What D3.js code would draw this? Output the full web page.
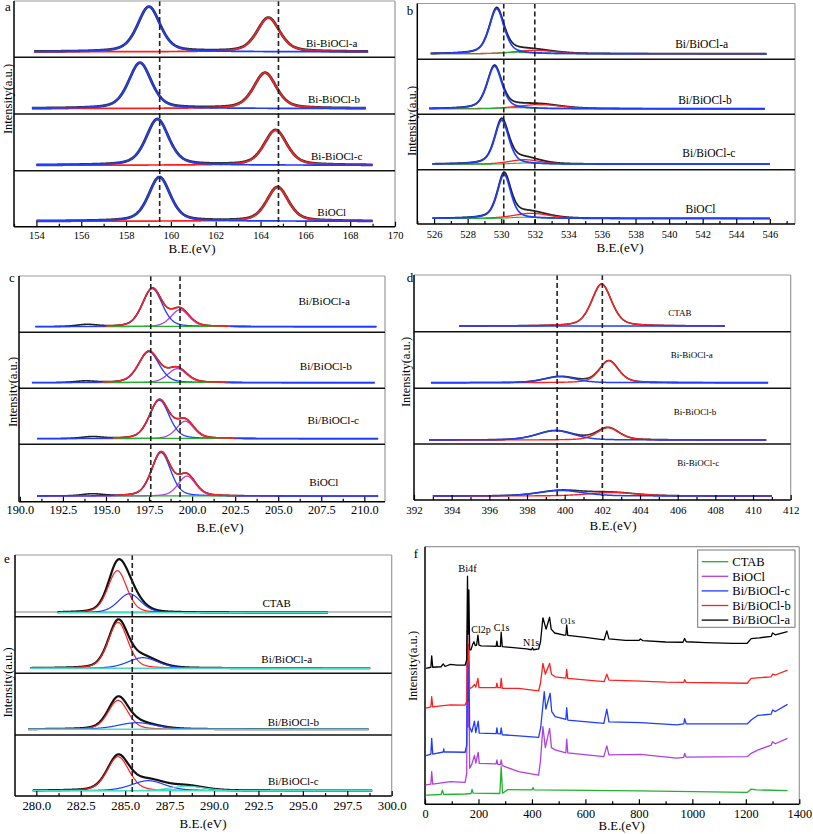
<!DOCTYPE html>
<html><head><meta charset="utf-8">
<script src="https://cdn.jsdelivr.net/npm/d3@7"></script>
<style>body{margin:0;background:#fff} svg{display:block} text{font-family:"Liberation Serif","Times New Roman",Times,serif;fill:#000}</style>
</head><body><svg id="c" width="813" height="834"></svg>
<script>
// ================= DATA =================
// ---- panel a : Bi 4f ----
const aSamples = ["Bi-BiOCl-a","Bi-BiOCl-b","Bi-BiOCl-c","BiOCl"];
const aRange = [[153.9,168.8],[153.8,168.7],[154.0,169.0],[154.0,169.0]];
const aBi72Center = [159.02,158.62,159.40,159.49];
const aBi72Height = [45,45.6,46,44];
const aBi72Fwhm = [1.2,1.2,1.2,1.15];
const aBi52Center = [164.35,164.20,164.67,164.76];
const aBi52Height = [34,35.6,35,34];
const aBi52Fwhm = [1.2,1.2,1.2,1.15];
const aRefLines = [159.5,164.8];
const aTicks = [154,156,158,160,162,164,166,168,170];

// ---- panel b : O 1s ----
const bSamples = ["Bi/BiOCl-a","Bi/BiOCl-b","Bi/BiOCl-c","BiOCl"];
const bRange = [[525.8,545.8],[525.7,545.7],[525.9,546.0],[525.9,546.0]];
const bLatCenter = [529.73,529.60,530.03,530.17];
const bLatHeight = [45,42.6,44,44];
const bLatFwhm = [1.05,1.05,1.0,0.95];
const bOHCenter = [532.0,532.3,531.4,531.8];
const bOHHeight = [3.5,4.3,4.5,5.2];
const bOHFwhm = [2.8,3.0,2.2,2.5];
const bAdsCenter = [530.9,530.9,531.5,531.4];
const bAdsHeight = [1.5,1.2,1.2,1.3];
const bRefLines = [530.15,532.0];
const bTicks = [526,528,530,532,534,536,538,540,542,544,546];

// ---- panel c : Cl 2p ----
const cSamples = ["Bi/BiOCl-a","Bi/BiOCl-b","Bi/BiOCl-c","BiOCl"];
const cRange = [[190.9,210.7],[190.7,210.6],[191.0,210.8],[191.0,210.8]];
const cFitWindow = [[195.0,202.2],[194.8,202.0],[195.4,202.5],[195.5,202.6]];
const c32Center = [197.69,197.49,198.10,198.20];
const c32Height = [38,31,38.5,43.5];
const c32Fwhm = [1.35,1.4,1.35,1.3];
const c12Center = [199.30,199.14,199.60,199.70];
const c12Height = [17,14,17.5,20];
const c12Fwhm = [1.25,1.3,1.2,1.2];
const cSatCenter = [193.9,193.8,194.2,194.2];
const cSatHeight = [2,1.5,1.8,2];
const cRefLines = [197.6,199.3];
const cTicks = [190,192.5,195,197.5,200,202.5,205,207.5,210];

// ---- panel d : N 1s ----
const dSamples = ["CTAB","Bi-BiOCl-a","Bi-BiOCl-b","Bi-BiOCl-c"];
const dRange = [[394.4,408.5],[392.9,410.8],[392.8,410.7],[393.0,411.0]];
const dQuatCenter = [401.96,402.35,402.30,402.50];
const dQuatHeight = [42,22,12.3,3.5];
const dQuatFwhm = [1.25,1.2,1.4,3.0];
const dAmCenter = [399.6,399.75,399.5,399.8];
const dAmHeight = [0,6,9.3,5.5];
const dAmFwhm = [2.0,2.0,2.3,2.8];
const dRefLines = [399.6,402.0];
const dTicks = [392,394,396,398,400,402,404,406,408,410,412];

// ---- panel e : C 1s ----
const eSamples = ["CTAB","Bi/BiOCl-a","Bi/BiOCl-b","Bi/BiOCl-c"];
const eRange = [[281.2,296.4],[279.65,298.8],[279.55,298.7],[279.8,298.9]];
const eCCCenter = [284.56,284.60,284.60,284.60];
const eCCHeight = [42,46,29,34];
const eCCFwhm = [1.26,1.31,1.31,1.45];
const eCOCenter = [285.24,286.0,285.65,286.3];
const eCOHeight = [19,10.6,6.6,10];
const eCOFwhm = [1.5,2.0,2.5,2.2];
const eOCOCenter = [288.5,288.5,288.5,288.5];
const eOCOHeight = [0,0,0,4.5];
const eRefLines = [285.4];
const eTicks = [280,282.5,285,287.5,290,292.5,295,297.5,300];

// ---- panel f : survey spectra [B.E.(eV), intensity a.u.] ----
const fSeries = ["CTAB","BiOCl","Bi/BiOCl-c","Bi/BiOCl-b","Bi/BiOCl-a"];
const fCTAB = [[4,3.6],[60,3.8],[65,5.5],[70,3.8],[150,4.0],[172,4.2],[176,5.8],[180,4.3],[280,4.2],[285,14.6],[290,4.3],[300,5.0],[310,5.7],[400,5.6],[404,6.5],[408,5.6],[800,5.2],[1205,4.6],[1220,5.9],[1240,5.6],[1356,5.3]];
const fBiOCl = [[4,7.5],[22,7.8],[25,12.7],[29,7.8],[95,8.8],[150,8.5],[156,12],[159,67.7],[161,30],[164,50],[167,14],[175,15.5],[185,19],[190,16],[199,20.2],[203,15.9],[266,15.7],[269,17.2],[272,15.5],[282,15.4],[285,17.2],[289,15],[350,12.7],[425,11.3],[432,17],[441,30.1],[450,22],[466,29.5],[473,22],[487,21.1],[527,20.0],[530,25.3],[534,20.0],[669,18.5],[680,22.7],[688,19.2],[806,19.4],[942,17.9],[968,18.2],[971,19.8],[977,18.3],[1205,18.5],[1220,19.8],[1244,21.0],[1295,23],[1300,24.3],[1310,23.5],[1356,25.6]];
const fBiBiOClC = [[4,18.9],[22,19.5],[25,25.6],[29,19.5],[68,20.3],[70,21.5],[72,20.3],[95,20.3],[150,20.2],[156,23],[159,65.4],[161,40],[164,55],[167,30],[175,28],[185,32.3],[190,27.8],[199,32.3],[203,27.6],[266,27.4],[269,29.7],[272,27.4],[282,27.3],[285,29.7],[289,27.0],[350,26.6],[425,26.0],[433,30],[446,43.7],[452,37],[468,43.1],[474,36],[487,34.0],[527,33.0],[530,37.5],[534,32.7],[669,31.4],[680,36.9],[688,32.0],[806,31.7],[942,30.8],[968,31.2],[971,33.2],[977,31.2],[1205,31.2],[1220,32.7],[1244,34.5],[1295,35],[1300,36.6],[1310,36],[1356,38.8]];
const fBiBiOClB = [[4,37.3],[22,37.8],[25,41.8],[29,37.8],[68,38.3],[95,38.6],[150,38.5],[156,40],[159,68],[161,55],[164,62],[167,45],[175,45.3],[185,46.5],[190,45.5],[198,48.9],[202,45.3],[266,45.3],[269,47.0],[272,45.3],[282,45.3],[285,48.9],[289,45.0],[350,45.0],[425,44.0],[432,47],[441,54.7],[450,50.5],[466,54.7],[473,50.5],[487,49.5],[527,49.0],[530,52.4],[534,48.9],[670,47.6],[680,50.5],[688,48.2],[806,47.8],[900,47.4],[968,47.3],[971,48.4],[977,47.3],[1205,47.0],[1220,48.9],[1295,49.5],[1300,50.5],[1310,50.2],[1356,52.1]];
const fBiBiOClA = [[4,52.8],[22,53.2],[25,57.6],[29,53.2],[60,53.4],[68,54.5],[75,53.5],[95,54.3],[120,54.0],[150,54.0],[156,56],[159,88.6],[161,66],[164,83.2],[167,60],[172,60],[178,62],[183,63.1],[188,61.6],[193,61.8],[198,65.7],[202,61.8],[210,61.5],[250,61.4],[266,61.3],[269,63.3],[272,61.3],[282,61.3],[285,66.8],[289,61.2],[320,60.9],[380,60.3],[398,60.0],[402,60.8],[406,60.0],[425,60.3],[432,63],[441,72.4],[453,68.0],[466,72.6],[472,68],[485,66.5],[520,65.7],[527,65.7],[530,69.6],[534,65.6],[600,64.8],[670,63.8],[680,67.3],[688,64.2],[750,63.6],[800,63.6],[806,64.2],[815,63.5],[900,63.0],[965,62.9],[971,64.4],[977,63.1],[1050,62.8],[1150,62.5],[1205,62.5],[1220,64.3],[1250,64.6],[1295,65.2],[1300,66.5],[1310,65.8],[1356,67.0]];
const fAnnot = ["Bi4f","Cl2p","C1s","N1s","O1s"];
const fTicks = [0,200,400,600,800,1000,1200,1400];

// ================= DRAWING =================
const svg = d3.select('#c');
const FONT = '"Liberation Serif","Times New Roman",Times,serif';
const BLUE = '#1f3cff', RED = '#ff1f1f', MAG = '#b040e0', GREEN = '#22b02e', CYAN = '#45dcc4';

function pv(x,c,h,w,eta){ if(!h) return 0; const t=(x-c)/w; return h*(eta/(1+4*t*t)+(1-eta)*Math.exp(-4*Math.LN2*t*t)); }
function samp(r){ return d3.range(r[0], r[1]+1e-9, 0.02); }
function path(g,xs,ys,x,y,color,w){
  const line = d3.line().x((d,j)=>x(xs[j])).y(d=>y(d));
  return g.append('path').attr('d',line(ys)).attr('fill','none').attr('stroke',color).attr('stroke-width',w).attr('stroke-linejoin','round');
}
function midTicks(t){ const m=[]; for(let i=0;i<t.length-1;i++) m.push((t[i]+t[i+1])/2); m.unshift(t[0]-(t[1]-t[0])/2); m.push(t[t.length-1]+(t[1]-t[0])/2); return m; }

function frame(L, x){
  const g = svg.append('g');
  const top = L.bounds[0], bot = L.bounds[L.bounds.length-1];
  (L.refs||[]).forEach(v=>{
    g.append('line').attr('x1',x(v)).attr('x2',x(v)).attr('y1',top).attr('y2',bot)
     .attr('stroke','#222').attr('stroke-width',1.6).attr('stroke-dasharray','5,3');
  });
  g.append('line').attr('x1',L.x0).attr('x2',L.x1).attr('y1',top).attr('y2',top).attr('stroke','#999').attr('stroke-width',1.2);
  g.append('line').attr('x1',L.x1).attr('x2',L.x1).attr('y1',top).attr('y2',bot).attr('stroke','#999').attr('stroke-width',1.2);
  for(let i=1;i<L.bounds.length-1;i++){
    g.append('line').attr('x1',L.x0).attr('x2',L.x1).attr('y1',L.bounds[i]).attr('y2',L.bounds[i]).attr('stroke','#111').attr('stroke-width',1.5);
  }
  g.append('line').attr('x1',L.x0).attr('x2',L.x0).attr('y1',top).attr('y2',bot).attr('stroke','#000').attr('stroke-width',1.5);
  const dom = x.domain();
  const minor = midTicks(L.major).filter(v=>v>=dom[0]-1e-6 && v<=dom[1]+1e-6);
  const ax = d3.axisBottom(x).tickValues(L.major).tickFormat(L.fmt).tickSize(-5).tickPadding(L.tickPad);
  const axg = g.append('g').attr('transform',`translate(0,${bot})`).call(ax);
  axg.select('.domain').remove();
  axg.attr('font-family',FONT).attr('font-size',L.tickFs);
  axg.selectAll('line').attr('stroke','#000').attr('stroke-width',1.2);
  axg.selectAll('text').attr('fill','#000');
  const mx = d3.axisBottom(x).tickValues(minor).tickFormat('').tickSize(-3);
  const mg = g.append('g').attr('transform',`translate(0,${bot})`).call(mx);
  mg.select('.domain').remove();
  mg.selectAll('line').attr('stroke','#000').attr('stroke-width',1.2);
  g.append('line').attr('x1',L.x0).attr('x2',L.x1).attr('y1',bot).attr('y2',bot).attr('stroke','#000').attr('stroke-width',1.5);
  g.append('text').attr('x',L.title[0]).attr('y',L.title[1]).attr('text-anchor','middle').attr('font-size',L.titleFs||13).text('B.E.(eV)');
  g.append('text').attr('transform',`translate(${L.ylab[0]},${L.ylab[1]}) rotate(-90)`).attr('text-anchor','middle').attr('dominant-baseline','central').attr('font-size',L.ylabFs||12.5).text('Intensity(a.u.)');
  g.append('text').attr('x',L.letter[1]).attr('y',L.letter[2]).attr('text-anchor','middle').attr('font-size',13).text(L.letter[0]);
}

function panel(L, names, drawStrip){
  const x = d3.scaleLinear().domain(L.domain).range([L.x0,L.x1]);
  const top = L.bounds[0], bot = L.bounds[L.bounds.length-1];
  const cid = 'clip'+L.letter[0];
  svg.append('clipPath').attr('id',cid).append('rect').attr('x',L.x0).attr('y',top).attr('width',L.x1-L.x0).attr('height',bot-top);
  const plot = svg.append('g').attr('clip-path',`url(#${cid})`);
  for(let i=0;i<L.bounds.length-1;i++){
    const b = L.bounds[i+1];
    const base = Array.isArray(L.base)?L.base[i]:L.base;
    const y = d3.scaleLinear().domain([0,100]).range([b-base,b-base-100]);
    drawStrip(i,x,y,plot);
    svg.append('text').attr('x',L.labelX[i]).attr('y',b-L.labelDy[i]).attr('text-anchor','middle').attr('font-size',L.labelFs).text(names[i]);
  }
  frame(L,x);
}

// ---- a ----
panel({x0:14,x1:395,bounds:[1,57.3,114,170.7,226.7],domain:[153,170],major:aTicks,fmt:d3.format('d'),tickFs:10.5,tickPad:4.8,
  title:[192,253],ylab:[7.5,99],letter:['a',8,11],labelX:[331.7,334,336.7,331.7],labelDy:[10.6,10.7,10.7,11],labelFs:11,base:5.5,refs:aRefLines},
  aSamples,(i,x,y,g)=>{
    const xs = samp(aRange[i]);
    const p1 = xs.map(v=>pv(v,aBi72Center[i],aBi72Height[i],aBi72Fwhm[i],0.45));
    const p2 = xs.map(v=>pv(v,aBi52Center[i],aBi52Height[i],aBi52Fwhm[i],0.45));
    path(g,xs,p1.map((v,j)=>v+p2[j]),x,y,'#333',2.8);
    path(g,xs,p2,x,y,RED,1.7);
    path(g,xs,p1,x,y,BLUE,1.7);
  });

// ---- b ----
panel({x0:417.3,x1:795,bounds:[3.5,59.3,114.3,169.7,224],domain:[525,547.5],major:bTicks,fmt:d3.format('d'),tickFs:10.5,tickPad:6.5,
  title:[620,252],ylab:[412,121],letter:['b',410,15],labelX:[701.7,705,708.8,700.5],labelDy:[11,10.3,13,11.3],labelFs:11.5,base:5.5,refs:bRefLines},
  bSamples,(i,x,y,g)=>{
    const xs = samp(bRange[i]);
    const p1 = xs.map(v=>pv(v,bLatCenter[i],bLatHeight[i],bLatFwhm[i],0.5));
    const p2 = xs.map(v=>pv(v,bOHCenter[i],bOHHeight[i],bOHFwhm[i],0.4));
    const p3 = xs.map(v=>pv(v,bAdsCenter[i],bAdsHeight[i],2.0,0.3));
    path(g,xs,p1.map((v,j)=>v+p2[j]+p3[j]),x,y,'#222',1.8);
    path(g,xs,p2,x,y,RED,1.3);
    path(g,xs,p3,x,y,GREEN,1.1);
    path(g,xs,p1,x,y,BLUE,1.7);
  });

// ---- c ----
panel({x0:19,x1:385,bounds:[276,332.3,388.3,444.3,501.7],domain:[189.95,211.2],major:cTicks,fmt:d3.format('.1f'),tickFs:12.3,tickPad:3.9,
  title:[220,531.5],ylab:[13,392],letter:['c',12,282],labelX:[324.2,325.8,333.3,323.8],labelDy:[27.3,18.3,20.3,15.7],labelFs:11.2,base:5.6,refs:cRefLines},
  cSamples,(i,x,y,g)=>{
    const xs = samp(cRange[i]);
    const p1 = xs.map(v=>pv(v,c32Center[i],c32Height[i],c32Fwhm[i],0.3));
    const p2 = xs.map(v=>pv(v,c12Center[i],c12Height[i],c12Fwhm[i],0.3));
    const p3 = xs.map(v=>pv(v,cSatCenter[i],cSatHeight[i],1.4,0.3));
    path(g,xs,p1.map((v,j)=>v+p2[j]+p3[j]),x,y,'#222',1.6);
    path(g,xs,p2,x,y,MAG,1.3);
    path(g,xs,p1,x,y,BLUE,1.3);
    const w = cFitWindow[i];
    const xw = samp(w);
    path(g,xw,xw.map(()=>0.3),x,y,GREEN,1.2);
    path(g,xw,xw.map(v=>pv(v,c32Center[i],c32Height[i],c32Fwhm[i],0.3)+pv(v,c12Center[i],c12Height[i],c12Fwhm[i],0.3)),x,y,RED,1.5);
  });

// ---- d ----
panel({x0:414,x1:790.7,bounds:[275,331.7,388.3,444,500],domain:[392,412],major:dTicks,fmt:d3.format('d'),tickFs:11,tickPad:6.2,
  title:[613,529.5],ylab:[406,372],letter:['d',410,282],labelX:[680,691.7,695,698.3],labelDy:[15.7,30,29,34],labelFs:9,base:[5.7,5.6,4,4],refs:dRefLines},
  dSamples,(i,x,y,g)=>{
    const xs = samp(dRange[i]);
    const p1 = xs.map(v=>pv(v,dQuatCenter[i],dQuatHeight[i],dQuatFwhm[i],0.4));
    const p2 = xs.map(v=>pv(v,dAmCenter[i],dAmHeight[i],dAmFwhm[i],0.3));
    path(g,xs,p1.map((v,j)=>v+p2[j]),x,y,'#333',1.6);
    path(g,xs,p1,x,y,RED,1.4);
    path(g,xs,p2,x,y,BLUE,1.5);
  });

// ---- e ----
panel({x0:15,x1:391.7,bounds:[555,616.7,673.3,735,796],domain:[278.8,300],major:eTicks,fmt:d3.format('.1f'),tickFs:12.8,tickPad:4.8,
  title:[203,828],ylab:[7.5,682.5],letter:['e',7,563],labelX:[276.7,286.7,293.3,293.3],labelDy:[10,10,9.3,11],labelFs:11,base:[4,5,5.7,5.3],refs:eRefLines},
  eSamples,(i,x,y,g)=>{
    const xs = samp(eRange[i]);
    const p1 = xs.map(v=>pv(v,eCCCenter[i],eCCHeight[i],eCCFwhm[i],0.3));
    const p2 = xs.map(v=>pv(v,eCOCenter[i],eCOHeight[i],eCOFwhm[i],0.3));
    const p3 = xs.map(v=>pv(v,eOCOCenter[i],eOCOHeight[i],2.3,0.3));
    if(i===0){ const xf=[278.8,300]; path(g,xf,[0.8,0.8],x,y,'#aaa',1.5); }
    path(g,xs,p1.map((v,j)=>v+p2[j]+p3[j]),x,y,'#111',2.2);
    path(g,xs,p1,x,y,RED,1.2);
    path(g,xs,p2,x,y,BLUE,1.2);
    if(eOCOHeight[i]) path(g,xs,p3,x,y,CYAN,1.1);
    path(g,xs,xs.map(()=>0),x,y,CYAN,1.4);
  });

// ---- f ----
(function(){
  const L = {x0:425,x1:799.3,bounds:[546.7,804.3],domain:[0,1400],major:fTicks,fmt:d3.format('d'),tickFs:12.3,tickPad:4.5,
    title:[621.7,830],ylab:[413,666],letter:['f',416,558],titleFs:12.8};
  const x = d3.scaleLinear().domain(L.domain).range([L.x0,L.x1]);
  const y = d3.scaleLinear().domain([0,100]).range([804.3,546.7]);
  const data = [fCTAB,fBiOCl,fBiBiOClC,fBiBiOClB,fBiBiOClA];
  const colors = [GREEN,MAG,BLUE,RED,'#000'];
  const line = d3.line().x(d=>x(d[0])).y(d=>y(d[1]));
  const g = svg.append('g');
  data.forEach((s,k)=>{
    g.append('path').attr('d',line(s)).attr('fill','none').attr('stroke',colors[k]).attr('stroke-width',1.3).attr('stroke-linejoin','round');
  });
  const annX = [467.5,481,501.5,531,567.7], annY = [572,633,630.5,646,623.5], annFs=[10.5,10,10,10,9];
  fAnnot.forEach((t,k)=>g.append('text').attr('x',annX[k]).attr('y',annY[k]).attr('text-anchor','middle').attr('font-size',annFs[k]).text(t));
  const lg = svg.append('g');
  lg.append('rect').attr('x',697.7).attr('y',550).attr('width',97.3).attr('height',77.3).attr('fill','#fff').attr('stroke','#777').attr('stroke-width',1);
  fSeries.forEach((n,k)=>{
    const cy = 561.7 + k*14.6;
    lg.append('line').attr('x1',701.7).attr('x2',728.3).attr('y1',cy).attr('y2',cy).attr('stroke',colors[k]).attr('stroke-width',1.3);
    lg.append('text').attr('x',732.3).attr('y',cy+4.3).attr('font-size',12.5).text(n);
  });
  frame(L,x);
})();
</script></body></html>
